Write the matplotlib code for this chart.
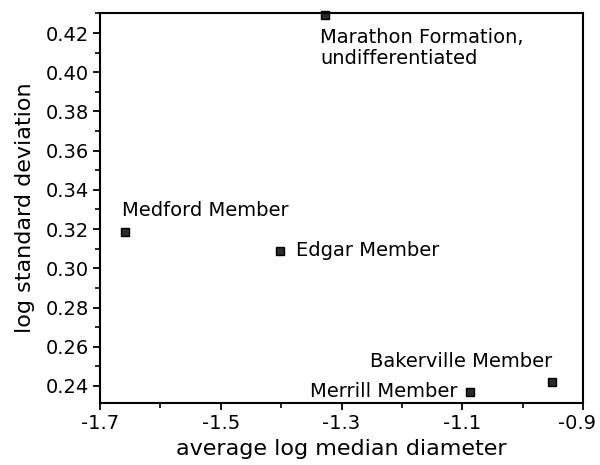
import matplotlib
matplotlib.use('Agg')
import matplotlib.pyplot as plt
from matplotlib.ticker import MultipleLocator
from matplotlib.transforms import ScaledTranslation

plt.rcParams['font.family'] = ['DejaVu Sans']

# unidades estratigráficas
unidades = ['Marathon Formation,\nundifferentiated', 'Medford Member', 'Edgar Member',
            'Bakerville Member', 'Merrill Member']
diametro_medio = [-1.327, -1.659, -1.402, -0.952, -1.087]
desvio_padrao = [0.429, 0.3185, 0.309, 0.242, 0.237]

# deslocamento do rótulo (pixels) e alinhamento
rotulos_pos = [(-5, -13, 'left', 'top'),
               (-3, 22, 'left', 'center'),
               (16, 0, 'left', 'center'),
               (1, 21, 'right', 'center'),
               (-13, 0, 'right', 'center')]

fig = plt.figure(figsize=(6, 4.65), dpi=100)
ax = fig.add_axes([0.1667, 0.1333, 0.805, 0.8387])

ax.plot(diametro_medio, desvio_padrao, 's', color='#2a2a2a', markersize=6,
        markeredgecolor='black', markeredgewidth=1.0, clip_on=False)

for nome, x, y, (dx, dy, ha, va) in zip(unidades, diametro_medio, desvio_padrao, rotulos_pos):
    ax.annotate(nome, (x, y), xytext=(dx, dy), textcoords='offset pixels',
                ha=ha, va=va, fontsize=14, linespacing=1.1)

ax.set_xlim(-1.7, -0.9)
ax.set_ylim(0.2313, 0.4302)
ax.set_xticks([-1.7, -1.5, -1.3, -1.1, -0.9])
ax.set_xticklabels(['-1.7', '-1.5', '-1.3', '-1.1', '-0.9'])
ax.set_yticks([0.24, 0.26, 0.28, 0.30, 0.32, 0.34, 0.36, 0.38, 0.40, 0.42])
ax.yaxis.set_major_formatter(plt.FormatStrFormatter('%.2f'))
ax.xaxis.set_minor_locator(MultipleLocator(0.1))
ax.yaxis.set_minor_locator(MultipleLocator(0.01))

ax.tick_params(which='major', direction='out', length=5, width=1.3, labelsize=14, pad=3)
ax.tick_params(which='minor', direction='out', length=3.5, width=1.2)
for lado in ax.spines.values():
    lado.set_linewidth(1.5)

# último rótulo do eixo x puxado para dentro da figura
ultimo = ax.get_xticklabels()[-1]
ultimo.set_transform(ultimo.get_transform() + ScaledTranslation(-6 / 100, 0, fig.dpi_scale_trans))

ax.set_xlabel('average log median diameter', fontsize=16, labelpad=4)
ax.set_ylabel('log standard deviation', fontsize=16, labelpad=8)

plt.savefig('out.png', dpi=100)
